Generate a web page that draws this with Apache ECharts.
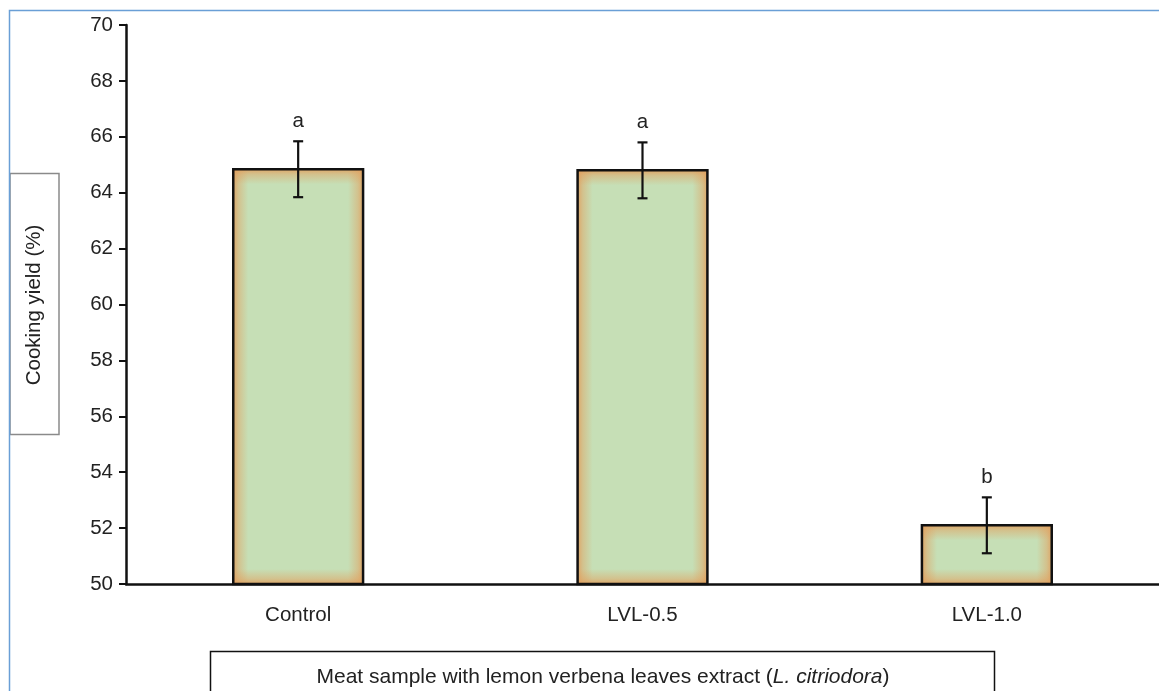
<!DOCTYPE html>
<html>
<head>
<meta charset="utf-8">
<script src="https://cdn.jsdelivr.net/npm/echarts@6/dist/echarts.min.js"></script>
<style>
  html, body { margin: 0; padding: 0; background: #fff; }
  #chart { width: 1159px; height: 691px; }
</style>
</head>
<body>
<div id="chart"></div>
<script>
const categories = ['Control', 'LVL-0.5', 'LVL-1.0'];
const yieldMeans = [64.84, 64.80, 52.10];
const yieldErrors = [1.0, 1.0, 1.0];
const groupLetters = ['a', 'a', 'b'];

const FONT = '"Liberation Sans", Arial, sans-serif';
const FS = 20.5;
const EDGE = 'rgba(226, 158, 92, ';

window.onload = () => {
    const chart = echarts.init(document.getElementById('chart'));

    // one data row per bar: [index, mean, error]
    const rows = categories.map((c, i) => [i, yieldMeans[i], yieldErrors[i]]);

    function edgeGradient(horizontal, size) {
        const f = Math.min(0.45, 15 / size);
        const stops = [
            { offset: 0, color: EDGE + '0.85)' },
            { offset: f * 0.35, color: EDGE + '0.45)' },
            { offset: f, color: EDGE + '0)' },
            { offset: 1 - f, color: EDGE + '0)' },
            { offset: 1 - f * 0.35, color: EDGE + '0.45)' },
            { offset: 1, color: EDGE + '0.85)' }
        ];
        return horizontal
            ? new echarts.graphic.LinearGradient(0, 0, 1, 0, stops)
            : new echarts.graphic.LinearGradient(0, 0, 0, 1, stops);
    }

    function renderBar(params, api) {
        const idx = api.value(0);
        const top = api.coord([idx, api.value(1)]);
        const base = api.coord([idx, 50]);
        const w = api.size([1, 0])[0] * 0.377;
        const x = top[0] - w / 2;
        const h = base[1] - top[1];
        const shape = { x: x, y: top[1], width: w, height: h };
        return {
            type: 'group',
            children: [
                { type: 'rect', shape: shape, style: { fill: '#c6dfb6' } },
                { type: 'rect', shape: shape, style: { fill: edgeGradient(true, w) } },
                { type: 'rect', shape: shape, style: { fill: edgeGradient(false, h) } },
                { type: 'rect', shape: shape, style: { fill: 'none', stroke: '#111', lineWidth: 2.5 } }
            ]
        };
    }

    function renderError(params, api) {
        const idx = api.value(0);
        const mean = api.value(1);
        const err = api.value(2);
        const hi = api.coord([idx, mean + err]);
        const lo = api.coord([idx, mean - err]);
        const cap = 5;
        const s = { stroke: '#111', lineWidth: 2.2 };
        return {
            type: 'group',
            children: [
                { type: 'line', shape: { x1: hi[0], y1: hi[1], x2: lo[0], y2: lo[1] }, style: s },
                { type: 'line', shape: { x1: hi[0] - cap, y1: hi[1], x2: hi[0] + cap, y2: hi[1] }, style: s },
                { type: 'line', shape: { x1: lo[0] - cap, y1: lo[1], x2: lo[0] + cap, y2: lo[1] }, style: s },
                {
                    type: 'text',
                    style: {
                        x: hi[0], y: hi[1] - 20,
                        text: groupLetters[params.dataIndex],
                        fill: '#222', font: FS + 'px ' + FONT,
                        align: 'center', verticalAlign: 'middle'
                    }
                }
            ]
        };
    }

    chart.setOption({
        animation: false,
        textStyle: { fontFamily: FONT },
        grid: { left: 126, right: -1, top: 25, bottom: 107 },
        xAxis: {
            type: 'category',
            data: categories,
            axisLine: { lineStyle: { color: '#111', width: 2.5 } },
            axisTick: { alignWithLabel: true, length: 7, lineStyle: { color: '#111', width: 2.5 } },
            axisLabel: { color: '#222', fontSize: FS, margin: 21 }
        },
        yAxis: {
            type: 'value',
            min: 50,
            max: 70,
            interval: 2,
            splitLine: { show: false },
            axisLine: { show: true, lineStyle: { color: '#111', width: 2.5 } },
            axisTick: { show: true, length: 7, lineStyle: { color: '#111', width: 2 } },
            axisLabel: { color: '#222', fontSize: FS, margin: 13 }
        },
        graphic: [
            { type: 'rect', shape: { x: 9.5, y: 10.5, width: 1300, height: 800 }, style: { fill: 'none', stroke: '#6a9fd6', lineWidth: 1.5 }, z: 10 },
            { type: 'rect', shape: { x: 10, y: 173.5, width: 49, height: 261 }, style: { fill: '#fff', stroke: '#8a8a8a', lineWidth: 1.5 }, z: 5 },
            {
                type: 'text', x: 34, y: 305, rotation: Math.PI / 2, z: 6,
                style: { text: 'Cooking yield (%)', fill: '#222', font: FS + 'px ' + FONT, align: 'center', verticalAlign: 'middle' }
            },
            { type: 'rect', shape: { x: 210.5, y: 651.5, width: 784, height: 80 }, style: { fill: '#fff', stroke: '#111', lineWidth: 1.5 }, z: 5 },
            {
                type: 'text', x: 603, y: 677, z: 6,
                style: {
                    text: '{n|Meat sample with lemon verbena leaves extract (}{i|L. citriodora}{n|)}',
                    align: 'center', verticalAlign: 'middle',
                    rich: {
                        n: { fontSize: 21, fontFamily: FONT, fill: '#222', color: '#222' },
                        i: { fontSize: 21, fontFamily: FONT, fontStyle: 'italic', fill: '#222', color: '#222' }
                    }
                }
            }
        ],
        series: [
            { type: 'custom', renderItem: renderBar, data: rows, z: 2 },
            { type: 'custom', renderItem: renderError, data: rows, z: 3 }
        ]
    });
};
</script>
</body>
</html>
